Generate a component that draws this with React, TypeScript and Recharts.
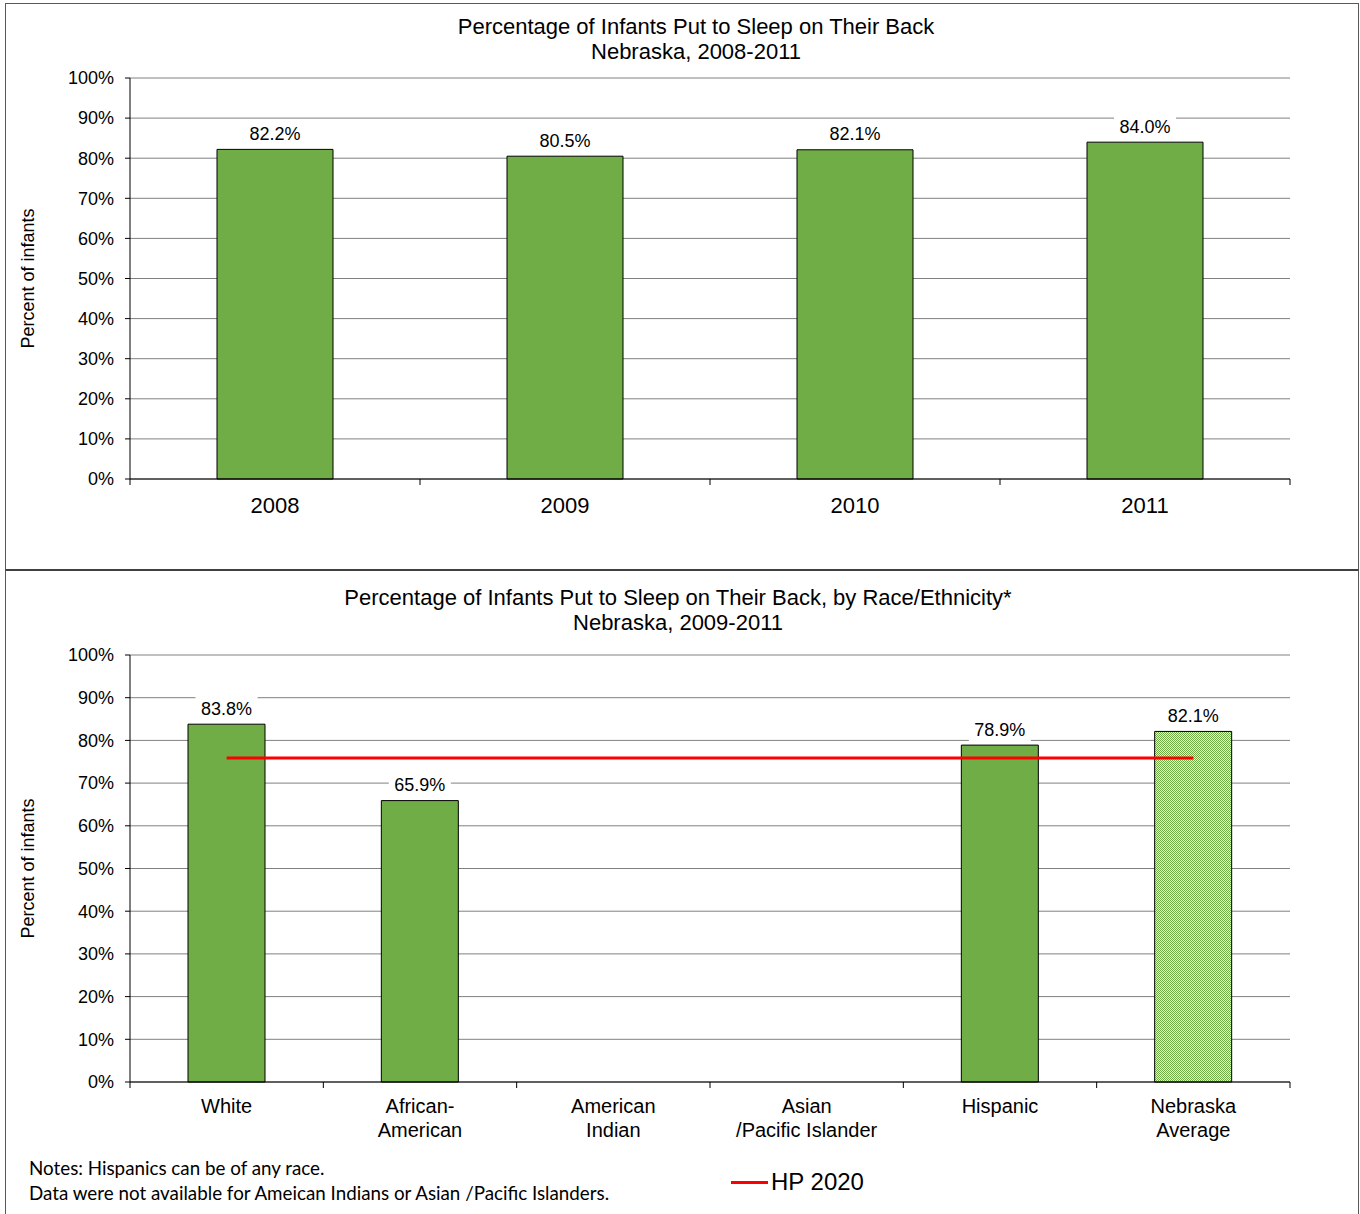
import { BarChart, ComposedChart, Bar, Line, XAxis, YAxis, CartesianGrid, LabelList, Cell, Legend } from 'recharts';

const years = ['2008', '2009', '2010', '2011'];
const yearPct = [82.2, 80.5, 82.1, 84.0];

const races = ['White', 'African-\nAmerican', 'American\nIndian', 'Asian\n/Pacific Islander', 'Hispanic', 'Nebraska\nAverage'];
const racePct = [83.8, 65.9, null, null, 78.9, 82.1];
const hp2020 = [75.9, 75.9, 75.9, 75.9, 75.9, 75.9];

const pctTicks = [0, 10, 20, 30, 40, 50, 60, 70, 80, 90, 100];

const FONT = '"Liberation Sans", Arial, sans-serif';
const GREEN = '#70AD47';
const GRID = '#808080';
const PLOT_W = 1160;

const yearData = years.map((year, i) => ({ year, pct: yearPct[i] }));
const raceData = races.map((race, i) => ({ race, pct: racePct[i], hp: hp2020[i] }));

// data label with white box behind it (hides the grid line)
const ValueLabel = (props: any) => {
  const vb = props.viewBox ?? props;
  const { value } = props;
  if (value == null) return null;
  const cx = vb.x + vb.width / 2;
  const cy = vb.y - 16;
  return (
    <g>
      <rect x={cx - 31} y={cy - 12} width={62} height={24} fill="#fff" />
      <text x={cx} y={cy} dy="0.36em" textAnchor="middle" fontSize={18} fontFamily={FONT} fill="#000">
        {Number(value).toFixed(1)}%
      </text>
    </g>
  );
};

// category tick: label lines at centre, tick marks on the category boundaries
const CategoryTick = (props: any) => {
  const { x, y, payload, index, count, fontSize, firstDy, lineH } = props;
  const band = PLOT_W / count;
  const lines = String(payload.value).split('\n');
  return (
    <g>
      <line x1={x - band / 2} x2={x - band / 2} y1={y} y2={y + 6} stroke="#000" />
      {index === count - 1 && <line x1={x + band / 2} x2={x + band / 2} y1={y} y2={y + 6} stroke="#000" />}
      <text x={x} y={y + firstDy} textAnchor="middle" fontSize={fontSize} fontFamily={FONT} fill="#000">
        {lines.map((l, i) => (
          <tspan key={i} x={x} dy={i === 0 ? 0 : lineH}>
            {l}
          </tspan>
        ))}
      </text>
    </g>
  );
};

const AxisTitle = (props: any) => {
  const vb = props.viewBox;
  const cx = 28;
  const cy = vb.y + vb.height / 2;
  return (
    <text x={cx} y={cy} dy="0.36em" transform={`rotate(-90, ${cx}, ${cy})`} textAnchor="middle" fontSize={18} fontFamily={FONT} fill="#000">
      Percent of infants
    </text>
  );
};

const yTick = { fill: '#000', fontSize: 18, fontFamily: FONT };

const LegendContent = (props: any) => (
  <div style={{ display: 'flex', alignItems: 'center', fontFamily: FONT, fontSize: 24, color: '#000', whiteSpace: 'nowrap' }}>
    {(props.payload || [])
      .filter((entry: any) => entry.type !== 'none')
      .map((entry: any) => (
        <span key={entry.value} style={{ display: 'flex', alignItems: 'center' }}>
          <span style={{ display: 'inline-block', width: 37, height: 3, background: entry.color, marginRight: 3 }} />
          {entry.value}
        </span>
      ))}
  </div>
);

export default function App() {
  return (
    <div style={{ position: 'absolute', left: 0, top: 0, width: 1360, height: 1214, background: '#fff', fontFamily: FONT }}>
      <div style={{ position: 'absolute', left: 5, top: 3, width: 1354, height: 568, border: '1px solid #595959', boxSizing: 'border-box' }} />
      <div style={{ position: 'absolute', left: 5, top: 569, width: 1354, height: 660, border: '1px solid #595959', borderTop: '2px solid #404040', boxSizing: 'border-box' }} />

      <div style={{ position: 'absolute', left: 0, top: 0 }}>
        <BarChart width={1360} height={570} data={yearData} margin={{ top: 78, right: 70, bottom: 51, left: 0 }} barCategoryGap="30%">
          <CartesianGrid vertical={false} stroke={GRID} />
          <XAxis
            dataKey="year"
            height={40}
            stroke="#000"
            tickLine={false}
            tickSize={0}
            tickMargin={0}
            interval={0}
            tick={(p: any) => <CategoryTick {...p} count={years.length} fontSize={22} firstDy={34} lineH={24} />}
          />
          <YAxis width={130} domain={[0, 100]} ticks={pctTicks} interval={0} stroke="#000" tickSize={5} tickMargin={11} tick={yTick} tickFormatter={(v) => `${v}%`} label={{ content: AxisTitle }} />
          <YAxis yAxisId="r" orientation="right" width={0} domain={[0, 100]} stroke={GRID} tick={false} tickLine={false} />
          <Bar dataKey="pct" fill={GREEN} stroke="#000" strokeWidth={1} isAnimationActive={false}>
            <LabelList dataKey="pct" content={ValueLabel} />
          </Bar>
        </BarChart>
      </div>
      <div style={{ position: 'absolute', left: 0, top: 14, width: 1392, textAlign: 'center', fontSize: 22, lineHeight: '25px', color: '#000' }}>
        Percentage of Infants Put to Sleep on Their Back
        <br />
        Nebraska, 2008-2011
      </div>

      <div style={{ position: 'absolute', left: 0, top: 570 }}>
        <ComposedChart width={1360} height={644} data={raceData} margin={{ top: 85, right: 70, bottom: 62, left: 0 }} barCategoryGap="30%">
          <defs>
            <pattern id="dots" width={2} height={2} patternUnits="userSpaceOnUse" shapeRendering="crispEdges">
              <rect width={2} height={2} fill={GREEN} />
              <rect x={1} y={0} width={1} height={1} fill="#eaf4e3" />
              <rect x={0} y={1} width={1} height={1} fill="#eaf4e3" />
            </pattern>
          </defs>
          <CartesianGrid vertical={false} stroke={GRID} />
          <XAxis
            dataKey="race"
            height={70}
            stroke="#000"
            tickLine={false}
            tickSize={0}
            tickMargin={0}
            interval={0}
            tick={(p: any) => <CategoryTick {...p} count={races.length} fontSize={20} firstDy={31} lineH={24} />}
          />
          <YAxis width={130} domain={[0, 100]} ticks={pctTicks} interval={0} stroke="#000" tickSize={5} tickMargin={11} tick={yTick} tickFormatter={(v) => `${v}%`} label={{ content: AxisTitle }} />
          <YAxis yAxisId="r" orientation="right" width={0} domain={[0, 100]} stroke={GRID} tick={false} tickLine={false} />
          <Bar dataKey="pct" stroke="#000" strokeWidth={1} legendType="none" isAnimationActive={false}>
            {raceData.map((d, i) => (
              <Cell key={d.race} fill={i === races.length - 1 ? 'url(#dots)' : GREEN} />
            ))}
            <LabelList dataKey="pct" content={ValueLabel} />
          </Bar>
          <Line dataKey="hp" name="HP 2020" stroke="#FF0000" strokeWidth={3} dot={false} activeDot={false} legendType="plainline" isAnimationActive={false} />
          <Legend layout="horizontal" verticalAlign="middle" align="center" wrapperStyle={{ left: 731, top: 598, width: 'auto' }} content={LegendContent} />
        </ComposedChart>
      </div>
      <div style={{ position: 'absolute', left: 0, top: 585, width: 1356, textAlign: 'center', fontSize: 22, lineHeight: '25px', color: '#000' }}>
        Percentage of Infants Put to Sleep on Their Back, by Race/Ethnicity*
        <br />
        Nebraska, 2009-2011
      </div>

      <div style={{ position: 'absolute', left: 29, top: 1155, fontFamily: 'Lato, "Open Sans", sans-serif', fontSize: 18.8, lineHeight: '25px', color: '#000' }}>
        Notes: Hispanics can be of any race.
        <br />
        Data were not available for Ameican Indians or Asian /Pacific Islanders.
      </div>
    </div>
  );
}
